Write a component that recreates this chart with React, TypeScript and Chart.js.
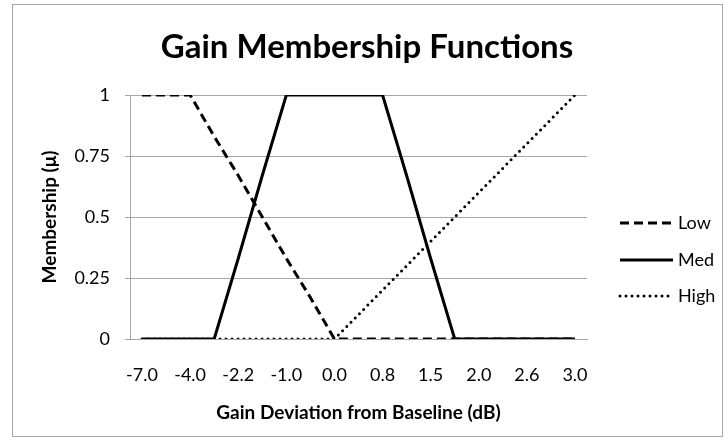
import React, { useEffect, useRef } from "react";
import { Chart, registerables } from "chart.js";

Chart.register(...registerables);

// Visible tick labels (every second category carries a label)
const tickLabels = ["-7.0", "-4.0", "-2.2", "-1.0", "0.0", "0.8", "1.5", "2.0", "2.6", "3.0"];
// 19 categories: labelled ones interleaved with unlabelled half-steps
const categories: string[] = [];
tickLabels.forEach((l, i) => {
  categories.push(l);
  if (i < tickLabels.length - 1) categories.push("");
});

const lowValues = [1, 1, 1, 0.83, 0.67, 0.5, 0.33, 0.17, 0, 0, 0, 0, 0, 0, 0, 0, 0, 0, 0];
const medValues = [0, 0, 0, 0, 0.33, 0.67, 1, 1, 1, 1, 1, 0.67, 0.33, 0, 0, 0, 0, 0, 0];
const highValues = [0, 0, 0, 0, 0, 0, 0, 0, 0, 0.1, 0.2, 0.3, 0.4, 0.5, 0.6, 0.7, 0.8, 0.9, 1];

const seriesNames = ["Low", "Med", "High"];
const yTicks = [0, 0.25, 0.5, 0.75, 1];

const chartTitle = "Gain Membership Functions";
const xTitle = "Gain Deviation from Baseline (dB)";
const yTitle = "Membership (\u03bc)";

const FONT = "Lato, 'Liberation Sans', sans-serif";

export default function App() {
  const ref = useRef<HTMLCanvasElement | null>(null);

  useEffect(() => {
    document.body.style.margin = "0";
    const canvas = ref.current;
    if (!canvas) return;

    const decor = {
      id: "decor",
      beforeDraw(chart: any) {
        const ctx = chart.ctx;
        ctx.save();
        ctx.fillStyle = "#ffffff";
        ctx.fillRect(0, 0, chart.width, chart.height);
        ctx.strokeStyle = "#a6a6a6";
        ctx.lineWidth = 1;
        ctx.strokeRect(12.5, 4.5, 710, 432);
        ctx.restore();
      },
      afterDraw(chart: any) {
        const ctx = chart.ctx;
        const ca = chart.chartArea;
        ctx.save();
        ctx.fillStyle = "#000000";
        // title
        ctx.font = `bold 33px ${FONT}`;
        ctx.textAlign = "center";
        ctx.textBaseline = "middle";
        ctx.fillText(chartTitle, 367, 47);
        // x axis title
        ctx.font = `bold 19px ${FONT}`;
        ctx.fillText(xTitle, (ca.left + ca.right) / 2, 413);
        // y axis title
        ctx.save();
        ctx.translate(50, (ca.top + ca.bottom) / 2);
        ctx.rotate(-Math.PI / 2);
        ctx.font = `bold 19px ${FONT}`;
        ctx.fillText(yTitle, 0, 0);
        ctx.restore();
        // legend
        const rows = [223, 260, 296];
        const x0 = 620;
        const x1 = 673;
        chart.data.datasets.forEach((ds: any, i: number) => {
          const y = rows[i];
          ctx.save();
          ctx.strokeStyle = "#000000";
          ctx.lineWidth = ds.borderWidth;
          ctx.lineCap = ds.borderCapStyle || "butt";
          ctx.setLineDash(ds.borderDash || []);
          ctx.beginPath();
          ctx.moveTo(x0, y);
          ctx.lineTo(x1, y);
          ctx.stroke();
          ctx.restore();
          ctx.font = `18px ${FONT}`;
          ctx.textAlign = "left";
          ctx.textBaseline = "middle";
          ctx.fillText(ds.label, x1 + 5, y);
        });
        ctx.restore();
      },
    };

    const chart = new Chart(canvas, {
      type: "line",
      data: {
        labels: categories,
        datasets: [
          {
            label: seriesNames[0],
            data: lowValues,
            borderColor: "#000000",
            borderWidth: 3,
            borderDash: [9, 5],
            pointRadius: 0,
            tension: 0,
            order: 1,
          },
          {
            label: seriesNames[1],
            data: medValues,
            borderColor: "#000000",
            borderWidth: 3,
            pointRadius: 0,
            tension: 0,
            order: 0,
          },
          {
            label: seriesNames[2],
            data: highValues,
            borderColor: "#000000",
            borderWidth: 3,
            borderDash: [0, 6],
            borderCapStyle: "round",
            pointRadius: 0,
            tension: 0,
            order: 2,
          },
        ] as any,
      },
      options: {
        animation: false,
        responsive: false,
        devicePixelRatio: 1,
        layout: { padding: { left: 0, top: 95, right: 137, bottom: 0 } },
        plugins: {
          legend: { display: false },
          title: { display: false },
          tooltip: { enabled: false },
        },
        scales: {
          x: {
            type: "category",
            offset: true,
            grid: { display: false, drawTicks: false },
            border: { display: true, color: "#a6a6a6" },
            ticks: {
              autoSkip: false,
              maxRotation: 0,
              minRotation: 0,
              padding: 25,
              color: "#000000",
              font: { family: FONT, size: 18 },
            },
            afterFit(scale: any) {
              scale.height = 104;
            },
          },
          y: {
            min: 0,
            max: 1,
            afterBuildTicks(scale: any) {
              scale.ticks = yTicks.map((v) => ({ value: v }));
            },
            grid: { color: "#a6a6a6", tickLength: 5, drawTicks: true },
            border: { display: true, color: "#a6a6a6" },
            ticks: {
              padding: 15,
              color: "#000000",
              font: { family: FONT, size: 18 },
              callback: (v: any) => String(v),
            },
            afterFit(scale: any) {
              scale.width = 130;
            },
          },
        },
      },
      plugins: [decor],
    });

    return () => chart.destroy();
  }, []);

  return <canvas ref={ref} width={724} height={443} style={{ display: "block" }} />;
}
